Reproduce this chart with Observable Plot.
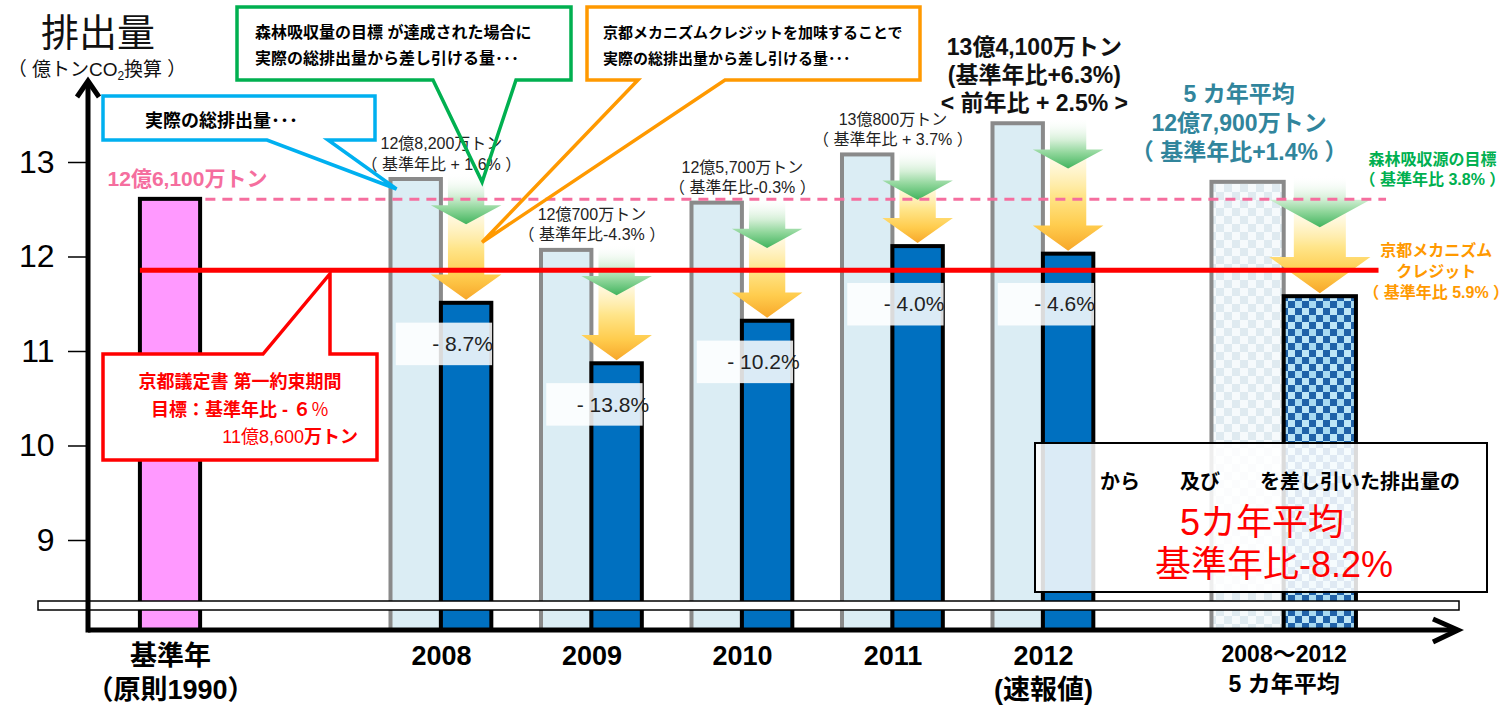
<!DOCTYPE html>
<html lang="ja">
<head>
<meta charset="utf-8">
<script src="https://cdn.jsdelivr.net/npm/d3@7"></script>
<script src="https://cdn.jsdelivr.net/npm/@observablehq/plot@0.6"></script>
<style>
  html, body { margin: 0; padding: 0; background: #fff; }
  #chart svg { display: block; }
</style>
</head>
<body>
<div id="chart"></div>
<script>
// ---------------- data ----------------
const categories = ["基準年", "2008", "2009", "2010", "2011", "2012", "2008～2012"];
const axisLabels = ["基準年\n（原則1990）", "2008", "2009", "2010", "2011", "2012\n(速報値)", "2008～2012\n5 カ年平均"];
// 億トンCO2
const grossEmissions = [12.61, 12.82, 12.07, 12.57, 13.08, 13.41, 12.79];
const netEmissions = [null, 11.51, 10.87, 11.32, 12.11, 12.03, 11.58];
const grossLabels = [
  null,
  "12億8,200万トン\n（ 基準年比 + 1.6% ）",
  "12億700万トン\n（ 基準年比-4.3% ）",
  "12億5,700万トン\n（ 基準年比-0.3% ）",
  "13億800万トン\n（ 基準年比 + 3.7% ）",
  "13億4,100万トン\n(基準年比+6.3%)\n< 前年比 + 2.5% >",
  "5 カ年平均\n12億7,900万トン\n（ 基準年比+1.4% ）"
];
const netChangeLabels = [null, "- 8.7%", "- 13.8%", "- 10.2%", "- 4.0%", "- 4.6%", null];
const baseYearEmission = 12.61;
const baseYearLabel = "12億6,100万トン";
const kyotoTarget = 11.86;
const forestSinkShare = 0.038;
const forestLabel = "森林吸収源の目標\n（ 基準年比 3.8% ）";
const creditLabel = "京都メカニズム\nクレジット\n（ 基準年比 5.9% ）";
const yTicks = [9, 10, 11, 12, 13];

// ---------------- layout ----------------
const FONT = '"Liberation Sans", "Noto Sans CJK JP", Arial, sans-serif';
const slotOf = [0, 1.8, 2.8, 3.8, 4.8, 5.8, 7.4];
const xDomain = [-0.5449, 8.5581];
const yDomain = [8.0476, 13.8677];
const Y0 = yDomain[0];

const rows = categories.map((cat, i) => ({
  cat, slot: slotOf[i], gross: grossEmissions[i], net: netEmissions[i],
  axisLabel: axisLabels[i], grossLabel: grossLabels[i], change: netChangeLabels[i],
  kind: i === 0 ? "base" : i === categories.length - 1 ? "avg" : "year"
}));
const baseRow = rows.filter(r => r.kind === "base");
const yearRows = rows.filter(r => r.kind === "year");
const avgRow = rows.filter(r => r.kind === "avg");
const reducedRows = rows.filter(r => r.net != null);
const barW = r => r.kind === "avg" ? 0.48 : 0.335;
const boxTop = r => Math.min(r.net - 0.21, kyotoTarget - 0.14);

// ---------------- helper marks ----------------
function defsMark() {
  return () => {
    const defs = d3.create("svg:defs");
    const p1 = defs.append("pattern").attr("id", "chkLight").attr("patternUnits", "userSpaceOnUse")
      .attr("width", 16).attr("height", 16);
    p1.append("rect").attr("width", 16).attr("height", 16).attr("fill", "#f6fafc");
    p1.append("rect").attr("width", 8).attr("height", 8).attr("fill", "#dfeaf0");
    p1.append("rect").attr("x", 8).attr("y", 8).attr("width", 8).attr("height", 8).attr("fill", "#dfeaf0");
    const p2 = defs.append("pattern").attr("id", "chkBlue").attr("patternUnits", "userSpaceOnUse")
      .attr("width", 14).attr("height", 14);
    p2.append("rect").attr("width", 14).attr("height", 14).attr("fill", "#2062a8");
    p2.append("rect").attr("width", 7).attr("height", 7).attr("fill", "#bfe6f7");
    p2.append("rect").attr("x", 7).attr("y", 7).attr("width", 7).attr("height", 7).attr("fill", "#a9daf2");
    const grad = (id, stops) => {
      const g = defs.append("linearGradient").attr("id", id)
        .attr("x1", 0).attr("y1", 0).attr("x2", 0).attr("y2", 1);
      for (const [o, c, op] of stops) g.append("stop").attr("offset", o).attr("stop-color", c).attr("stop-opacity", op);
    };
    grad("gradGreen", [[0, "#ffffff", 0], [0.45, "#d4efd6", 1], [0.7, "#8fd69a", 1], [1, "#42b45e", 1]]);
    grad("gradYellow", [[0, "#fffbe8", 0.6], [0.45, "#ffe58a", 1], [0.75, "#ffcc4d", 1], [1, "#f7a72a", 1]]);
    return defs.node();
  };
}

function arrowPath(cx, top, tip, sh, hh, headH) {
  const hb = tip - headH;
  return `M${cx - sh},${top}H${cx + sh}V${hb}H${cx + hh}L${cx},${tip}L${cx - hh},${hb}H${cx - sh}Z`;
}

function reductionArrows(data) {
  return (index, {x, y}) => {
    const g = d3.create("svg:g");
    for (const r of data) {
      const w = x(r.slot + barW(r)) - x(r.slot);
      const cx = x(r.slot + barW(r) / 2);
      const sh = 0.36 * w, hh = 0.7 * w;
      const gTop = y(r.gross) - 6;
      const gTip = y(r.gross - forestSinkShare * baseYearEmission);
      const yTip = y(r.net) - 3;
      g.append("path").attr("d", arrowPath(cx, gTip - 18, yTip, sh, hh, 0.5 * w))
        .attr("fill", "url(#gradYellow)");
      g.append("path").attr("d", arrowPath(cx, gTop, gTip, sh, hh, 0.38 * w))
        .attr("fill", "url(#gradGreen)");
    }
    return g.node();
  };
}

function axesMark() {
  return (index, {x, y}) => {
    const g = d3.create("svg:g").attr("fill", "none").attr("stroke", "#000");
    const x0 = x(xDomain[0]), x1 = x(xDomain[1]), y0 = y(yDomain[0]), y1 = y(yDomain[1]);
    // axis break band
    g.append("rect").attr("x", x0 - 50).attr("y", y0 - 29).attr("width", x1 - x0 + 51).attr("height", 9)
      .attr("fill", "#fff").attr("stroke-width", 1.5);
    g.append("line").attr("x1", x0).attr("x2", x0).attr("y1", y0 + 2.5).attr("y2", y1 + 3).attr("stroke-width", 5);
    g.append("line").attr("x1", x0).attr("x2", x1 - 3).attr("y1", y0).attr("y2", y0).attr("stroke-width", 5);
    g.append("path").attr("d", `M${x0 - 11},${y1 + 17}L${x0},${y1 + 1}L${x0 + 11},${y1 + 17}`).attr("stroke-width", 5);
    g.append("path").attr("d", `M${x1 - 25},${y0 - 11}L${x1},${y0}L${x1 - 25},${y0 + 12}`).attr("stroke-width", 5);
    return g.node();
  };
}

function addText(g, x, y, parts, {size = 16, anchor = "start", fill = "#000", weight = "bold"} = {}) {
  const t = g.append("text").attr("x", x).attr("y", y).attr("font-size", size)
    .attr("text-anchor", anchor).attr("fill", fill).attr("font-weight", weight);
  for (const p of [].concat(parts)) {
    if (typeof p === "string") t.append("tspan").text(p);
    else {
      const s = t.append("tspan").text(p.t);
      for (const k of Object.keys(p)) if (k !== "t") s.attr(k, p[k]);
    }
  }
  return t;
}

function drawCallout(g, {box: [l, t, r, b], side, tail: [ta, tb], apex: [ax, ay], color}) {
  g.append("rect").attr("x", l).attr("y", t).attr("width", r - l).attr("height", b - t).attr("fill", "#fff");
  const d = side === "bottom"
    ? `M${ta},${b}H${l}V${t}H${r}V${b}H${tb}L${ax},${ay}Z`
    : `M${tb},${t}H${r}V${b}H${l}V${t}H${ta}L${ax},${ay}Z`;
  g.append("path").attr("d", d).attr("fill", "none").attr("stroke", color).attr("stroke-width", 3.5);
}

function annotations() {
  return (index, {x, y}) => {
    const g = d3.create("svg:g").attr("font-family", FONT);
    const r08 = rows[1];
    const arrowX = x(r08.slot + barW(r08) / 2);
    // title
    addText(g, 98, 46, "排出量", {size: 38, anchor: "middle", weight: "normal", fill: "#111"});
    addText(g, 97, 76, ["（ 億トンCO", {t: "2", "font-size": 12, dy: 4}, {t: "換算 ）", dy: -4}],
      {size: 19, anchor: "middle", weight: "normal", fill: "#111"});
    // summary box
    g.append("rect").attr("x", 1035).attr("y", 443).attr("width", 452).attr("height", 149)
      .attr("fill", "#fff").attr("fill-opacity", 0.86).attr("stroke", "#000").attr("stroke-width", 2);
    addText(g, 1100, 489, "から　　及び　　を差し引いた排出量の", {size: 20});
    addText(g, 1262, 535, "5カ年平均", {size: 36, anchor: "middle", weight: "normal", fill: "#ff0000"});
    addText(g, 1274, 577, "基準年比-8.2%", {size: 36, anchor: "middle", weight: "normal", fill: "#ff0000"});
    // blue callout
    drawCallout(g, {box: [103, 96, 375, 140], side: "bottom", tail: [267, 328],
      apex: [x(r08.slot - barW(r08)) + 6, y(r08.gross) + 10], color: "#00b0f0"});
    addText(g, 145, 127, "実際の総排出量･･･", {size: 18});
    // green callout
    drawCallout(g, {box: [237, 7, 571, 80], side: "bottom", tail: [433, 516],
      apex: [arrowX + 16, y(r08.gross) + 3], color: "#00b050"});
    addText(g, 255, 38, "森林吸収量の目標 が達成された場合に", {size: 16});
    addText(g, 255, 64, "実際の総排出量から差し引ける量･･･", {size: 16});
    // orange callout
    drawCallout(g, {box: [587, 7, 920, 80], side: "bottom", tail: [638, 725],
      apex: [arrowX + 16, y(r08.gross - forestSinkShare * baseYearEmission) + 18], color: "#ff9900"});
    addText(g, 603, 38, "京都メカニズムクレジットを加味することで", {size: 15});
    addText(g, 603, 64, "実際の総排出量から差し引ける量･･･", {size: 15});
    // red callout
    drawCallout(g, {box: [103, 354, 377, 460], side: "top", tail: [263, 330],
      apex: [330, y(kyotoTarget) + 4], color: "#ff0000"});
    addText(g, 240, 388, "京都議定書 第一約束期間", {size: 18, anchor: "middle", fill: "#ff0000"});
    addText(g, 240, 416, ["目標：基準年比 - ６", {t: "％", "font-weight": "normal"}], {size: 18, anchor: "middle", fill: "#ff0000"});
    addText(g, 358, 443, [{t: "11億8,600", "font-weight": "normal"}, "万トン"], {size: 18, anchor: "end", fill: "#ff0000"});
    return g.node();
  };
}

// ---------------- chart ----------------
const chart = Plot.plot({
  width: 1510, height: 705,
  marginTop: 80, marginRight: 52, marginBottom: 75, marginLeft: 88,
  style: {fontFamily: FONT, background: "#fff", overflow: "visible", color: "#000"},
  x: {type: "linear", domain: xDomain, axis: null},
  y: {type: "linear", domain: yDomain, axis: null},
  marks: [
    defsMark(),
    // bars
    Plot.rect(baseRow, {x1: r => r.slot - 0.2, x2: r => r.slot + 0.2, y1: Y0, y2: "gross",
      fill: "#ff99ff", stroke: "#000", strokeWidth: 4}),
    Plot.rect(yearRows, {x1: r => r.slot - barW(r), x2: "slot", y1: Y0, y2: "gross",
      fill: "#dbedf4", stroke: "#8a8a8a", strokeWidth: 4}),
    Plot.rect(avgRow, {x1: r => r.slot - barW(r), x2: "slot", y1: Y0, y2: "gross",
      fill: "url(#chkLight)", stroke: "#8a8a8a", strokeWidth: 4}),
    Plot.rect(yearRows, {x1: "slot", x2: r => r.slot + barW(r), y1: Y0, y2: "net",
      fill: "#0070c0", stroke: "#000", strokeWidth: 4}),
    Plot.rect(avgRow, {x1: "slot", x2: r => r.slot + barW(r), y1: Y0, y2: "net",
      fill: "url(#chkBlue)", stroke: "#000", strokeWidth: 4}),
    // reduction arrows
    reductionArrows(reducedRows),
    // reference lines
    Plot.ruleY([baseYearEmission], {x1: 0.235, x2: 8.08, stroke: "#f56e9e", strokeWidth: 3, strokeDasharray: "10,7"}),
    Plot.ruleY([kyotoTarget], {x1: -0.2, x2: 8.03, stroke: "#ff0000", strokeWidth: 5}),
    // change labels
    Plot.rect(yearRows, {x1: r => r.slot - 0.3, x2: r => r.slot + 0.34, y1: boxTop, y2: r => boxTop(r) - 0.45,
      fill: "#fff", fillOpacity: 0.86}),
    Plot.text(yearRows, {x: r => r.slot + 0.14, y: r => boxTop(r) - 0.225, text: "change",
      fontSize: 21, fill: "#222"}),
    // value labels
    Plot.text(yearRows.slice(0, 4), {x: "slot", y: "gross", text: "grossLabel", lineAnchor: "bottom",
      dy: -10, fontSize: 16, lineHeight: 1.27, fill: "#222"}),
    Plot.text(yearRows.slice(4), {x: r => r.slot - 0.06, y: "gross", text: "grossLabel", lineAnchor: "bottom",
      dy: -13, fontSize: 23, lineHeight: 1.22, fontWeight: "bold", fill: "#111"}),
    Plot.text(avgRow, {x: r => r.slot - 0.3, y: "gross", text: "grossLabel", lineAnchor: "bottom",
      dy: -22, fontSize: 23, lineHeight: 1.26, fontWeight: "bold", fill: "#31859c"}),
    Plot.text(baseRow, {x: r => r.slot + 0.113, y: "gross", text: () => baseYearLabel, lineAnchor: "bottom",
      dy: -13, fontSize: 21, fontWeight: "bold", fill: "#f56e9e"}),
    Plot.text([forestLabel], {x: 8.385, y: baseYearEmission, text: d => d, lineAnchor: "bottom",
      dy: -14, fontSize: 16, lineHeight: 1.3, fontWeight: "bold", fill: "#00b050"}),
    Plot.text([creditLabel], {x: 8.41, y: kyotoTarget, text: d => d, lineAnchor: "middle",
      fontSize: 16, lineHeight: 1.3, fontWeight: "bold", fill: "#ff9900"}),
    // axes
    axesMark(),
    Plot.axisY({ticks: yTicks, tickFormat: d => String(d), tickSize: 20, tickPadding: 14, fontSize: 32,
      label: null, strokeWidth: 1.5}),
    Plot.text(rows.slice(0, 6), {x: "slot", text: "axisLabel", frameAnchor: "bottom", lineAnchor: "top",
      dy: 11, fontSize: 27, lineHeight: 1.25, fontWeight: "bold"}),
    Plot.text(avgRow, {x: "slot", text: "axisLabel", frameAnchor: "bottom", lineAnchor: "top",
      dy: 10, fontSize: 23, lineHeight: 1.3, fontWeight: "bold"}),
    // callouts and titles
    annotations()
  ]
});
document.getElementById("chart").append(chart);
</script>
</body>
</html>
